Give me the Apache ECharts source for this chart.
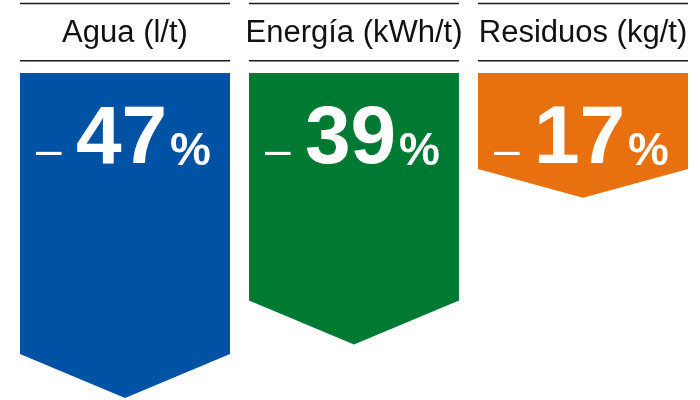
<!DOCTYPE html>
<html>
<head>
<meta charset="utf-8">
<script src="https://cdn.jsdelivr.net/npm/echarts@6/dist/echarts.min.js"></script>
<style>
html,body{margin:0;padding:0;background:#fff;}
#main{width:700px;height:400px;}
</style>
</head>
<body>
<div id="main"></div>
<script>
// ---- data ----
var categories = ['Agua (l/t)', 'Energía (kWh/t)', 'Residuos (kg/t)'];
var reductions = [47, 39, 17];           // percentage reductions
var palette = ['#0052A5', '#007A33', '#E8700F'];

var chart = echarts.init(document.getElementById('main'), null, {renderer: 'canvas'});
var FONT = '"Liberation Sans", Arial, sans-serif';

function txt(text, x, y, size, weight, fill, align) {
  return {type: 'text', style: {text: text, x: x, y: y, align: align, verticalAlign: 'middle',
    fontFamily: FONT, fontSize: size, fontWeight: weight, fill: fill}};
}

function renderItem(params, api) {
  var idx = api.value(0);
  var val = api.value(1);
  var cs = params.coordSys;
  var cx = api.coord([idx, 0])[0];
  var band = api.size([1, 0])[0];
  var w = band * 0.917;
  var x0 = cx - w / 2, x1 = cx + w / 2;
  var top = cs.y;
  var tipY = api.coord([idx, val])[1];
  var depth = Math.min(44, (tipY - top) * 0.23);
  var shoulder = tipY - depth;
  var color = palette[idx];
  var baseY = 168.5;
  return {
    type: 'group',
    children: [
      {type: 'polygon', shape: {points: [[x0, top], [x1, top], [x1, shoulder], [cx, tipY], [x0, shoulder]]},
       style: {fill: color}},
      {type: 'line', shape: {x1: x0, y1: 3.5, x2: x1, y2: 3.5}, style: {stroke: '#1a1a1a', lineWidth: 1.5}},
      {type: 'line', shape: {x1: x0, y1: 60.8, x2: x1, y2: 60.8}, style: {stroke: '#1a1a1a', lineWidth: 1.5}},
      txt(categories[idx], cx, 44.5 - 0.3465 * 31, 31, 'normal', '#111', 'center'),
      txt('\u2013', cx - 89, baseY - 0.3465 * 46, 46, 'normal', '#fff', 'left'),
      txt(String(reductions[idx]), cx - 49, baseY - 0.3465 * 82, 82, 'bold', '#fff', 'left'),
      txt('%', cx + 45, baseY - 0.3465 * 46, 46, 'bold', '#fff', 'left')
    ]
  };
}

chart.setOption({
  animation: false,
  grid: {left: 10.5, width: 687, top: 73, bottom: 0, containLabel: false},
  xAxis: {type: 'category', data: categories, show: false},
  yAxis: {type: 'value', min: -1.7, max: 47.3, inverse: true, show: false},
  series: [{
    type: 'custom',
    renderItem: renderItem,
    clip: false,
    encode: {x: 0, y: 1},
    data: reductions.map(function (v, i) { return [i, v]; })
  }]
});
</script>
</body>
</html>
